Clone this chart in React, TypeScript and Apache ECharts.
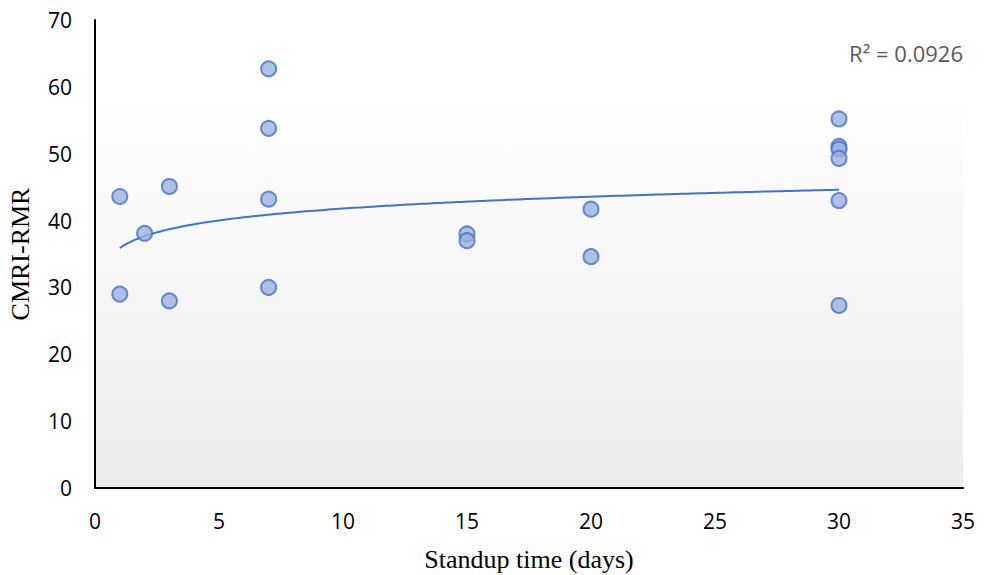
import React, { useEffect, useRef } from "react";
import * as echarts from "echarts";

const xValues = [1, 1, 2, 3, 3, 7, 7, 7, 7, 15, 15, 20, 20, 30, 30, 30, 30, 30, 30];
const yValues = [43.6, 29.0, 38.1, 45.1, 28.0, 62.7, 53.8, 43.2, 30.0, 38.0, 37.0, 41.7, 34.6, 55.2, 51.1, 50.7, 49.3, 43.0, 27.3];
const xTicks = [0, 5, 10, 15, 20, 25, 30, 35];
const yTicks = [0, 10, 20, 30, 40, 50, 60, 70];
// logarithmic trendline y = a + b ln(x), coefficients
const trendIntercept = 35.9;
const trendSlope = 2.56;
const trendRange = [1, 30];
const r2Label = "R² = 0.0926";

export default function App() {
  const ref = useRef<HTMLDivElement>(null);
  useEffect(() => {
    if (!ref.current) return;
    const chart = echarts.init(ref.current, undefined, { renderer: "svg" });
    const [xmin, xmax] = trendRange;
    const trend: number[][] = [];
    for (let i = 0; i <= 200; i++) {
      const x = xmin + ((xmax - xmin) * i) / 200;
      trend.push([x, trendIntercept + trendSlope * Math.log(x)]);
    }
    const gl = 95, gr = 26, gt = 20, gb = 87;
    chart.setOption({
      animation: false,
      backgroundColor: "#ffffff",
      grid: {
        left: gl, right: gr, top: gt, bottom: gb,
        show: true,
        borderWidth: 0,
        containLabel: false,
        outerBoundsMode: "none",
        backgroundColor: new echarts.graphic.LinearGradient(0, 0, 0, 1, [
          { offset: 0, color: "#ffffff" },
          { offset: 0.15, color: "#ffffff" },
          { offset: 1, color: "#ececec" },
        ]),
      },
      xAxis: {
        type: "value",
        min: 0, max: 35, interval: 5,
        name: "Standup time (days)",
        nameLocation: "middle",
        nameGap: 58,
        nameTextStyle: { fontFamily: "Liberation Serif", fontSize: 26, color: "#000" },
        axisLine: { show: true, onZero: false, lineStyle: { color: "#000", width: 2 } },
        axisTick: { show: false },
        splitLine: { show: false },
        axisLabel: {
          fontFamily: "Open Sans", fontSize: 21, color: "#000", margin: 22,
          formatter: (v: number) => (xTicks.includes(v) ? String(v) : ""),
        },
      },
      yAxis: {
        type: "value",
        min: 0, max: 70, interval: 10,
        name: "CMRI-RMR",
        nameLocation: "middle",
        nameGap: 62,
        nameTextStyle: { fontFamily: "Liberation Serif", fontSize: 26, color: "#000" },
        axisLine: { show: true, onZero: false, lineStyle: { color: "#000", width: 2 } },
        axisTick: { show: false },
        splitLine: { show: false },
        axisLabel: {
          fontFamily: "Open Sans", fontSize: 21, color: "#000", margin: 23,
          formatter: (v: number) => (yTicks.includes(v) ? String(v) : ""),
        },
      },
      graphic: [
        {
          type: "text",
          right: 26,
          top: 42,
          style: { text: r2Label, fontFamily: "Open Sans", fontSize: 22, fill: "#595959" },
        },
      ],
      series: [
        {
          type: "line",
          data: trend,
          showSymbol: false,
          smooth: false,
          lineStyle: { color: "#4472c4", width: 2 },
          z: 2,
        },
        {
          type: "scatter",
          data: xValues.map((x, i) => [x, yValues[i]]),
          symbol: "circle",
          symbolSize: 15,
          itemStyle: { color: "#9eb0de", borderColor: "#4472c4", borderWidth: 2 },
          z: 3,
        },
      ],
    });
    return () => chart.dispose();
  }, []);
  return <div ref={ref} style={{ width: 989, height: 575, position: "absolute", left: 0, top: 0 }} />;
}
